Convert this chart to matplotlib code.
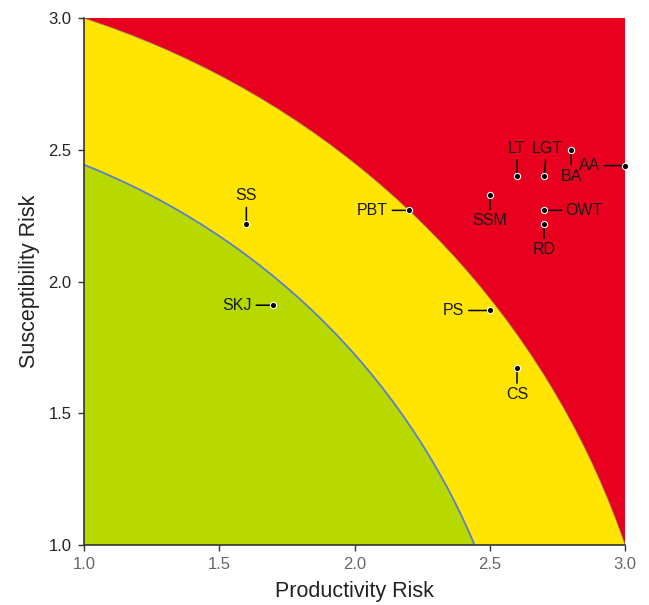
import matplotlib.pyplot as plt
from matplotlib.patches import Wedge

plt.rcParams['font.family'] = ['Liberation Sans', 'DejaVu Sans']

# risk zone radii, distance from the origin (0, 0)
low_radius = 2.64
high_radius = 3.162

species = ['SS', 'SKJ', 'PBT', 'PS', 'CS', 'SSM', 'LT', 'LGT', 'BA', 'AA', 'OWT', 'RD']
productivity = [1.6, 1.7, 2.2, 2.5, 2.6, 2.5, 2.6, 2.7, 2.8, 3.0, 2.7, 2.7]
susceptibility = [2.22, 1.91, 2.27, 1.89, 1.67, 2.33, 2.40, 2.40, 2.50, 2.44, 2.27, 2.22]
# where each label sits relative to its point
label_side = ['up', 'left', 'left', 'left', 'down', 'down', 'up', 'up', 'down', 'left', 'right', 'down']

fig = plt.figure(figsize=(6.49, 6.05), dpi=100)
ax = fig.add_axes([0.1294, 0.0992, 0.834, 0.871])

ax.set_facecolor('#e8001e')
ax.add_patch(Wedge((0, 0), high_radius, 0, 90, facecolor='#ffe500',
                   edgecolor='#9a7a66', lw=0.6, zorder=1))
ax.add_patch(Wedge((0, 0), low_radius, 0, 90, facecolor='#b8d900',
                   edgecolor='#5a7fcf', lw=1.3, zorder=2))

ax.plot(productivity, susceptibility, 'o', color='black', ms=4.5,
        mec='white', mew=0.8, zorder=5, clip_on=False)

offsets = {'up': (0, 20), 'down': (0, -19), 'left': (-26, 0), 'right': (29, 0)}
for name, x, y, side in zip(species, productivity, susceptibility, label_side):
    dx, dy = offsets[side]
    if name == 'LGT':
        dx = 2
    ax.annotate(name, (x, y), xytext=(dx, dy), textcoords='offset points',
                ha='center', va='center', fontsize=11.5, color='#1a1a1a',
                arrowprops=dict(arrowstyle='-', color='black', lw=1.1,
                                shrinkA=1, shrinkB=0), zorder=4)

ax.set_xlim(1, 3)
ax.set_ylim(1, 3)
ticks = [1.0, 1.5, 2.0, 2.5, 3.0]
ax.set_xticks(ticks)
ax.set_yticks(ticks)
ax.set_xticklabels(['%.1f' % t for t in ticks], fontsize=12)
ax.set_yticklabels(['%.1f' % t for t in ticks], fontsize=12)
ax.tick_params(direction='out', length=4, width=1, colors='#333333', pad=5)
for lab in ax.get_xticklabels():
    lab.set_color('#666666')
for lab in ax.get_yticklabels():
    lab.set_color('#222222')

for s in ['top', 'right']:
    ax.spines[s].set_visible(False)
for s in ['left', 'bottom']:
    ax.spines[s].set_color('#333333')
    ax.spines[s].set_linewidth(1.2)
    ax.spines[s].set_zorder(6)

ax.set_xlabel('Productivity Risk', fontsize=15.5, color='#222222', labelpad=6)
ax.set_ylabel('Susceptibility Risk', fontsize=15.5, color='#222222', labelpad=6)

fig.savefig('out.png', dpi=100)
